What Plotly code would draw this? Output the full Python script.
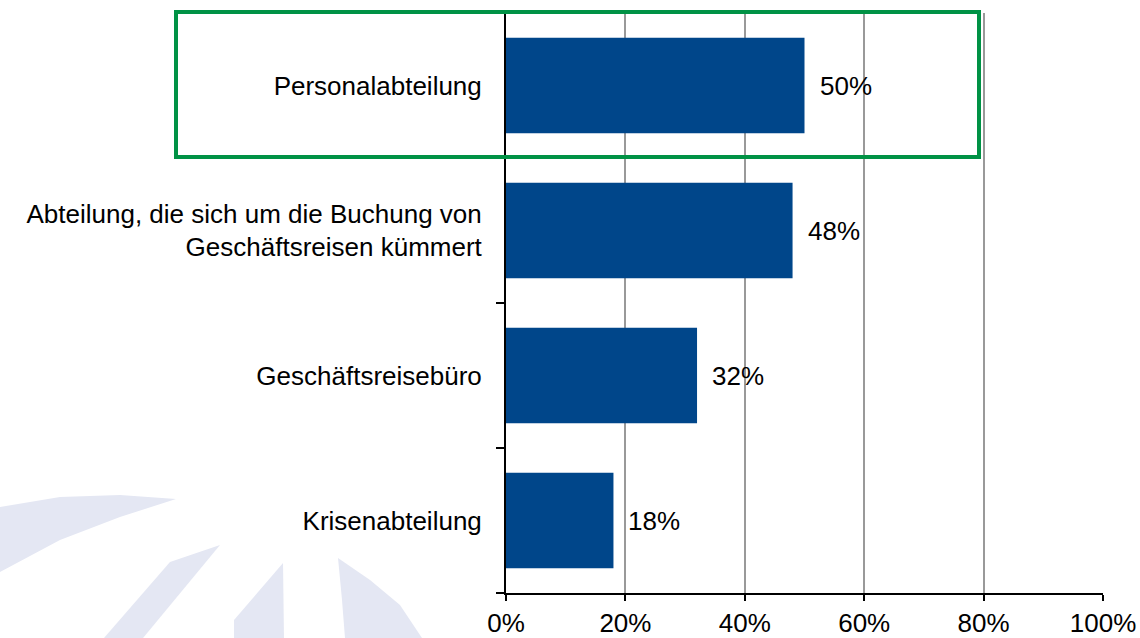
import plotly.graph_objects as go

categories = [
    "Personalabteilung",
    "Abteilung, die sich um die Buchung von<br>Geschäftsreisen kümmert",
    "Geschäftsreisebüro",
    "Krisenabteilung",
]
values = [50, 48, 32, 18]
value_labels = ["50%", "48%", "32%", "18%"]
x_ticks = [0, 20, 40, 60, 80, 100]
x_tick_labels = ["0%", "20%", "40%", "60%", "80%", "100%"]

W, H = 1140, 638
L, R, T, B = 506, 37, 13, 45
PW, PH = W - L - R, H - T - B

def px(xp):
    return (xp - L) / PW

def py(yp):
    return (H - B - yp) / PH

def path(points):
    return "M " + " L ".join(f"{px(x):.4f},{py(y):.4f}" for x, y in points) + " Z"

FONT = "Liberation Sans, Arial"

fig = go.Figure()
fig.add_trace(go.Bar(
    y=categories, x=values, orientation="h",
    marker=dict(color="#00468A", line=dict(width=0)),
    width=0.66, hoverinfo="skip",
))

annotations = []
for c, v, t in zip(categories, values, value_labels):
    annotations.append(dict(
        x=v, y=c, xref="x", yref="y", text=t, showarrow=False,
        xanchor="left", xshift=13,
        font=dict(family=FONT, size=26, color="#000000"),
    ))

watermark_color = "#E4E7F3"
wm = [
    [(0, 507), (60, 497), (120, 495), (176, 499), (120, 517), (60, 540), (0, 572)],
    [(170, 562), (220, 545), (143, 638), (104, 638)],
    [(283, 563), (284, 638), (234, 638), (234, 620)],
    [(338, 558), (370, 580), (400, 605), (422, 638), (345, 638), (342, 600)],
]
shapes = []
for pts in wm:
    shapes.append(dict(type="path", path=path(pts), xref="paper", yref="paper",
                       fillcolor=watermark_color, line=dict(width=0), layer="below"))

shapes.append(dict(type="rect", xref="paper", yref="paper",
                   x0=px(176), x1=px(979), y0=py(157), y1=py(12),
                   line=dict(color="#009245", width=4), fillcolor="rgba(0,0,0,0)"))

fig.update_layout(
    width=W, height=H,
    margin=dict(l=L, r=R, t=T, b=B),
    paper_bgcolor="white", plot_bgcolor="white",
    showlegend=False,
    bargap=0.34,
    annotations=annotations,
    shapes=shapes,
    font=dict(family=FONT, size=26, color="#000000"),
    xaxis=dict(
        range=[0, 100], tickvals=x_ticks, ticktext=x_tick_labels,
        showgrid=True, gridcolor="#999999", gridwidth=2,
        showline=True, linecolor="#000000", linewidth=2,
        ticks="outside", ticklen=6, tickwidth=2, tickcolor="#000000",
        zeroline=False, fixedrange=True, automargin=False,
        tickfont=dict(size=26),
    ),
    yaxis=dict(
        categoryorder="array", categoryarray=categories[::-1],
        showline=True, linecolor="#000000", linewidth=2,
        ticks="outside", ticklen=8, tickwidth=2, tickcolor="#000000",
        tickson="boundaries", showgrid=False, zeroline=False,
        ticklabelstandoff=17, fixedrange=True, automargin=False,
        tickfont=dict(size=26),
    ),
)

post = (
    "document.body.style.margin='0';"
    "document.body.style.overflow='hidden';"
    "document.documentElement.style.overflow='hidden';"
)
fig.write_html("out.html", post_script=post, config={"displayModeBar": False})
